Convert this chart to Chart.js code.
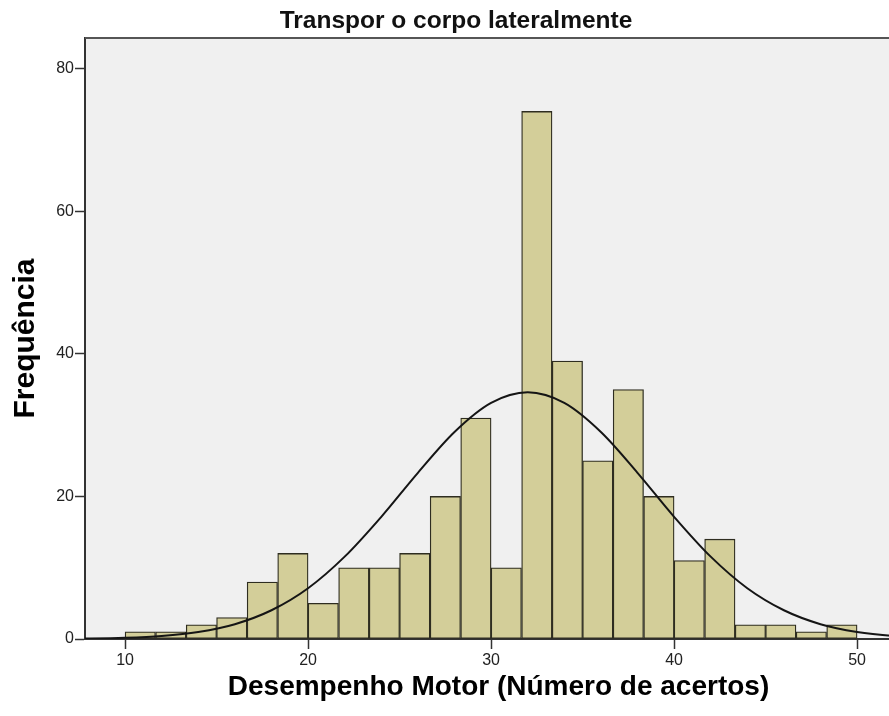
<!DOCTYPE html>
<html>
<head>
<meta charset="utf-8">
<script src="https://cdn.jsdelivr.net/npm/chart.js"></script>
<style>
    html, body { margin: 0; padding: 0; background: #ffffff; overflow: hidden; }
    canvas { display: block; }
</style>
</head>
<body>
<canvas id="chart" width="916" height="716"></canvas>
<script>
// bin midpoints (bin width 5/3, from 10 to 50)
const binMids = [10.83, 12.5, 14.17, 15.83, 17.5, 19.17, 20.83, 22.5, 24.17, 25.83, 27.5, 29.17,
                 30.83, 32.5, 34.17, 35.83, 37.5, 39.17, 40.83, 42.5, 44.17, 45.83, 47.5, 49.17];
const counts = [1, 1, 2, 3, 8, 12, 5, 10, 10, 12, 20, 31,
                10, 74, 39, 25, 35, 20, 11, 14, 2, 2, 1, 2];

// normal curve
const curveX = [7, 8, 10, 12, 14, 16, 18, 20, 22, 24, 26, 28, 30, 32, 34, 36, 38, 40, 42, 44, 46, 48, 50, 52, 54];
const curveY = [0.04, 0.06, 0.17, 0.43, 0.99, 2.08, 4.03, 7.12, 11.55, 17.14, 23.31, 29.03, 33.11, 34.6,
                33.11, 29.03, 23.31, 17.14, 11.55, 7.12, 4.03, 2.08, 0.99, 0.43, 0.17];

const xTicks = [10, 20, 30, 40, 50];
const yTicks = [0, 20, 40, 60, 80];

const chartTitle = 'Transpor o corpo lateralmente';
const xTitle = 'Desempenho Motor (Número de acertos)';
const yTitle = 'Frequência';

const fontFamily = '"Liberation Sans", Arial, sans-serif';

const plotFrame = {
    id: 'plotFrame',
    beforeDraw(chart) {
        const {ctx, chartArea} = chart;
        ctx.save();
        ctx.fillStyle = '#f0f0f0';
        ctx.fillRect(chartArea.left, chartArea.top, chartArea.right - chartArea.left, chartArea.bottom - chartArea.top);
        ctx.restore();
    },
    afterDraw(chart) {
        const {ctx, chartArea} = chart;
        ctx.save();
        ctx.strokeStyle = '#555555';
        ctx.lineWidth = 2;
        ctx.beginPath();
        ctx.moveTo(chartArea.left, chartArea.top);
        ctx.lineTo(chartArea.right, chartArea.top);
        ctx.stroke();
        ctx.restore();
    }
};

const ctx = document.getElementById('chart').getContext('2d');
new Chart(ctx, {
    type: 'bar',
    data: {
        datasets: [
            {
                type: 'line',
                data: curveX.map((x, i) => ({x: x, y: curveY[i]})),
                borderColor: '#151515',
                borderWidth: 2,
                pointRadius: 0,
                fill: false,
                cubicInterpolationMode: 'monotone',
                order: 0
            },
            {
                type: 'bar',
                data: binMids.map((x, i) => ({x: x, y: counts[i]})),
                backgroundColor: '#d3ce99',
                borderColor: '#2e2d20',
                borderWidth: 1.3,
                borderSkipped: false,
                barPercentage: 1,
                categoryPercentage: 1,
                order: 1
            }
        ]
    },
    options: {
        responsive: false,
        animation: false,
        layout: {
            padding: {left: 0, right: 4, top: 0, bottom: 0}
        },
        plugins: {
            legend: {display: false},
            tooltip: {enabled: false},
            title: {
                display: true,
                text: chartTitle,
                color: '#111111',
                font: {family: fontFamily, size: 24.5, weight: 'bold'},
                padding: {top: 7, bottom: 1.6}
            }
        },
        scales: {
            x: {
                type: 'linear',
                offset: false,
                min: 7.81,
                max: 53.0,
                afterBuildTicks: (scale) => {
                    scale.ticks = xTicks.map(v => ({value: v}));
                },
                afterFit: (scale) => {
                    scale.height = 77;
                },
                ticks: {
                    color: '#222222',
                    font: {family: fontFamily, size: 16},
                    padding: 2,
                    maxRotation: 0
                },
                grid: {
                    offset: false,
                    drawOnChartArea: false,
                    drawTicks: true,
                    tickLength: 10,
                    tickWidth: 1.5,
                    color: '#333333'
                },
                border: {color: '#333333', width: 2},
                title: {
                    display: true,
                    text: xTitle,
                    color: '#000000',
                    font: {family: fontFamily, size: 28, weight: 'bold'},
                    padding: {top: 0, bottom: 12}
                }
            },
            y: {
                min: 0,
                max: 84.3,
                afterBuildTicks: (scale) => {
                    scale.ticks = yTicks.map(v => ({value: v}));
                },
                afterFit: (scale) => {
                    scale.width = 85;
                },
                ticks: {
                    color: '#222222',
                    font: {family: fontFamily, size: 16},
                    padding: 1
                },
                grid: {
                    drawOnChartArea: false,
                    drawTicks: true,
                    tickLength: 10,
                    tickWidth: 1.5,
                    color: '#333333'
                },
                border: {color: '#333333', width: 2},
                title: {
                    display: true,
                    text: yTitle,
                    color: '#000000',
                    font: {family: fontFamily, size: 30, weight: 'bold'},
                    padding: {top: 8, bottom: 0}
                }
            }
        }
    },
    plugins: [plotFrame]
});
</script>
</body>
</html>
